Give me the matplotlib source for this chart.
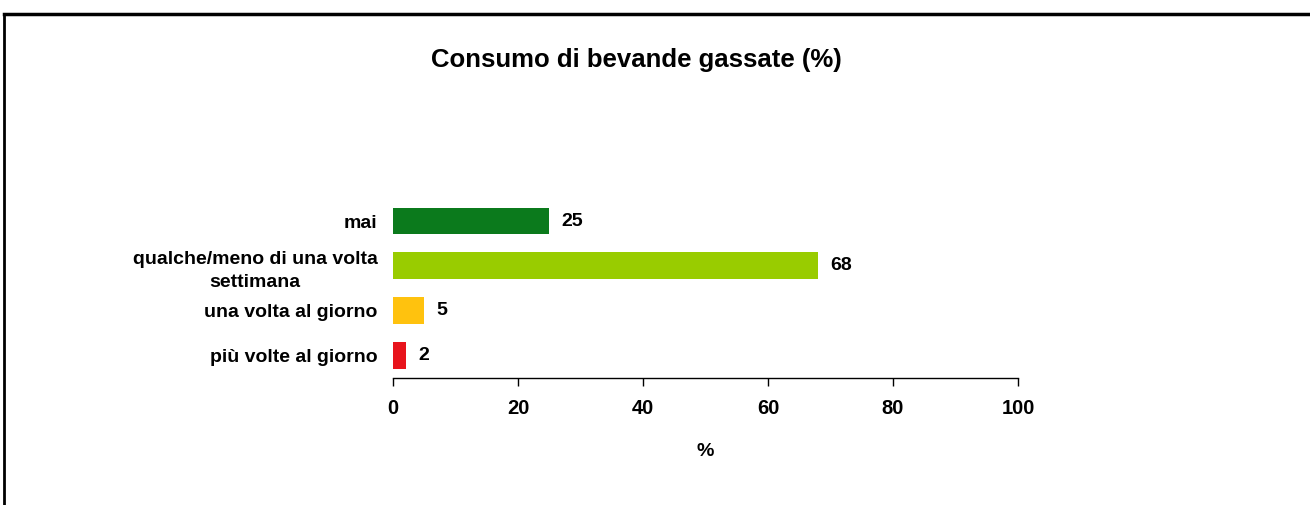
import matplotlib
matplotlib.use("Agg")
import matplotlib.pyplot as plt
from matplotlib.lines import Line2D

categorie = ["mai", "qualche/meno di una volta\nsettimana", "una volta al giorno", "più volte al giorno"]
valori = [25, 68, 5, 2]
colori = ["#0b7a1c", "#99cc00", "#ffc20e", "#e8141c"]
xticks = [0, 20, 40, 60, 80, 100]

plt.rcParams['font.family'] = ['Liberation Sans Narrow', 'Liberation Sans', 'DejaVu Sans']
plt.rcParams['font.weight'] = 'bold'

fig = plt.figure(figsize=(13.1, 5.05), dpi=100)
ax = fig.add_axes([393 / 1310, 1 - 378 / 505, (1018 - 393) / 1310, (378 - 198.6) / 505])

pos = list(range(len(categorie)))
ax.barh(pos, valori, height=0.6, color=colori)
for p, v in zip(pos, valori):
    ax.text(v + 2, p, str(v), va="center", ha="left", fontsize=14, fontweight="bold")

ax.set_xlim(0, 100)
ax.set_ylim(3.5, -0.5)
ax.set_xticks(xticks)
ax.set_yticks(pos)
ax.set_yticklabels(categorie, fontsize=14)
for t in ax.get_yticklabels():
    t.set_multialignment("center")
    t.set_linespacing(1.45)
ax.tick_params(axis="y", length=0, pad=11)
ax.tick_params(axis="x", length=6, width=1, pad=9, labelsize=14.5)
for s in ["top", "right", "left"]:
    ax.spines[s].set_visible(False)
ax.spines["bottom"].set_linewidth(1)
ax.set_xlabel("%", fontsize=14, fontweight="bold", labelpad=18)

fig.text(636 / 1310, 1 - 60 / 505, "Consumo di bevande gassate (%)", ha="center", va="center",
         fontsize=18.5, fontweight="bold")

# cornice
fig.add_artist(Line2D([4 / 1310, 1], [1 - 14 / 505, 1 - 14 / 505], color="black", lw=2.5,
                      transform=fig.transFigure))
fig.add_artist(Line2D([4 / 1310, 4 / 1310], [0, 1 - 14 / 505], color="black", lw=2,
                      transform=fig.transFigure))

fig.savefig("out.png", dpi=100)
